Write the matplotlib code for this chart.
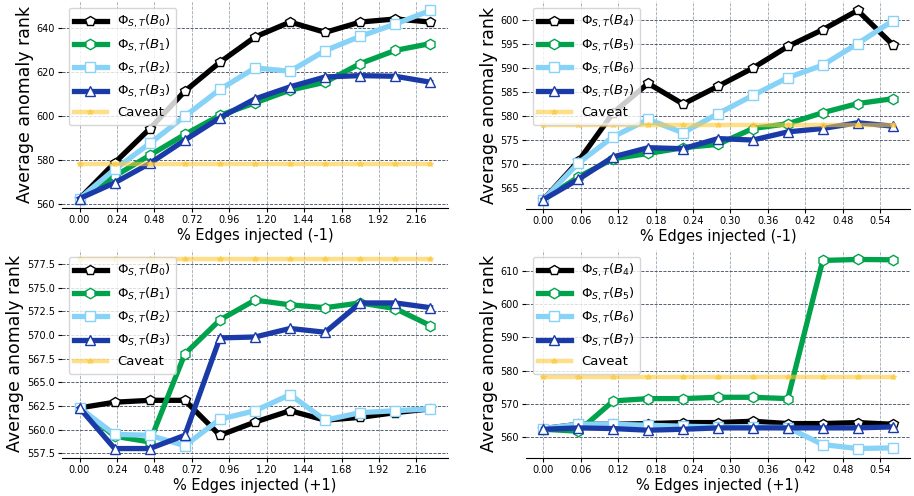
import matplotlib
matplotlib.use('Agg')
import matplotlib.pyplot as plt
import numpy as np

# injected-edge percentages for the two graph sizes
x_left = [0.0, 0.225, 0.45, 0.675, 0.9, 1.125, 1.35, 1.575, 1.8, 2.025, 2.25]
x_right = [0.0, 0.056, 0.112, 0.168, 0.224, 0.28, 0.336, 0.392, 0.448, 0.504, 0.56]
xticks_left = [0.0, 0.24, 0.48, 0.72, 0.96, 1.2, 1.44, 1.68, 1.92, 2.16]
xticks_right = [0.0, 0.06, 0.12, 0.18, 0.24, 0.3, 0.36, 0.42, 0.48, 0.54]
caveat = 578.0

# (-1) injections
neg_b0 = [562.3, 578.6, 594.1, 611.2, 624.4, 635.9, 642.7, 638.0, 642.7, 644.1, 642.7]
neg_b1 = [562.3, 572.5, 582.0, 591.5, 600.2, 605.9, 611.7, 615.3, 623.8, 629.8, 632.9]
neg_b2 = [562.3, 575.6, 587.4, 599.8, 612.0, 621.8, 620.3, 629.7, 636.2, 641.8, 648.0]
neg_b3 = [562.3, 569.5, 578.3, 588.9, 599.1, 607.7, 613.2, 617.7, 618.3, 618.0, 615.3]

neg_b4 = [562.5, 570.5, 580.6, 586.7, 582.4, 586.1, 589.9, 594.4, 597.9, 601.9, 594.8]
neg_b5 = [562.5, 567.2, 571.0, 572.1, 573.3, 574.0, 577.3, 578.3, 580.6, 582.5, 583.5]
neg_b6 = [562.5, 570.1, 575.6, 579.2, 576.4, 580.4, 584.2, 587.9, 590.5, 595.0, 599.7]
neg_b7 = [562.5, 566.7, 571.4, 573.3, 573.1, 575.2, 574.9, 576.6, 577.3, 578.5, 577.8]

# (+1) injections
pos_b0 = [562.3, 562.9, 563.1, 563.1, 559.4, 560.8, 562.0, 561.0, 561.3, 561.8, 562.2]
pos_b1 = [562.3, 559.3, 558.7, 568.0, 571.6, 573.7, 573.2, 572.9, 573.4, 572.8, 571.0]
pos_b2 = [562.3, 559.5, 559.4, 558.3, 561.1, 562.0, 563.7, 561.0, 561.8, 562.0, 562.2]
pos_b3 = [562.3, 558.0, 558.0, 559.4, 569.7, 569.8, 570.7, 570.3, 573.4, 573.4, 572.9]

pos_b4 = [562.6, 563.9, 563.9, 564.1, 564.4, 564.4, 564.8, 564.1, 564.1, 564.4, 563.9]
pos_b5 = [562.4, 561.8, 570.9, 571.6, 571.6, 572.0, 572.0, 571.6, 613.1, 613.4, 613.3]
pos_b6 = [562.6, 563.9, 563.9, 563.6, 563.3, 563.1, 563.1, 562.9, 557.8, 556.6, 556.8]
pos_b7 = [562.4, 562.8, 562.6, 562.1, 562.4, 562.8, 562.8, 562.8, 562.8, 562.8, 563.1]

colors = ['#000000', '#00a24b', '#87d3f8', '#1a3aa8']
markers = ['p', 'h', 's', '^']


def draw(ax, x, series, first, xticks, xlabel):
    for i, y in enumerate(series):
        ax.plot(x, y, color=colors[i], lw=3.8, marker=markers[i], ms=7.5,
                markerfacecolor='white', markeredgecolor=colors[i], markeredgewidth=1.0,
                label=r'$\Phi_{S,T}(B_%d)$' % (first + i))
    ax.plot(x, [caveat] * len(x), color='#fcc93a', alpha=0.6, lw=3.2, marker='*', ms=4,
            label='Caveat')
    ax.set_xticks(xticks)
    ax.set_xticklabels(['%.2f' % t for t in xticks])
    ax.set_xlabel(xlabel, fontsize=10.5, labelpad=2)
    ax.set_ylabel('Average anomaly rank', fontsize=12.5, labelpad=2)
    ax.tick_params(labelsize=7, length=3, pad=2)
    ax.yaxis.grid(True, color='#3c4859', linestyle='--', linewidth=0.6)
    ax.xaxis.grid(True, color='#9ea7b2', linestyle='--', linewidth=0.6)
    ax.set_axisbelow(True)
    for side in ['top', 'right', 'left']:
        ax.spines[side].set_visible(False)
    ax.legend(loc='upper left', fontsize=9.5, handlelength=2.5, labelspacing=0.45,
              borderpad=0.4)


fig, axes = plt.subplots(2, 2, figsize=(9.14, 4.96), dpi=100)

draw(axes[0, 0], x_left, [neg_b0, neg_b1, neg_b2, neg_b3], 0, xticks_left, '% Edges injected (-1)')
draw(axes[0, 1], x_right, [neg_b4, neg_b5, neg_b6, neg_b7], 4, xticks_right, '% Edges injected (-1)')
draw(axes[1, 0], x_left, [pos_b0, pos_b1, pos_b2, pos_b3], 0, xticks_left, '% Edges injected (+1)')
draw(axes[1, 1], x_right, [pos_b4, pos_b5, pos_b6, pos_b7], 4, xticks_right, '% Edges injected (+1)')

# place the four panels explicitly
axes[0, 0].set_position([62 / 914, 1 - 208 / 496, 386 / 914, 207 / 496])
axes[0, 1].set_position([526 / 914, 1 - 209 / 496, 384 / 914, 208 / 496])
axes[1, 0].set_position([62 / 914, 1 - 458 / 496, 386 / 914, 208 / 496])
axes[1, 1].set_position([526 / 914, 1 - 458 / 496, 384 / 914, 208 / 496])

plt.savefig('out.png', dpi=100)
